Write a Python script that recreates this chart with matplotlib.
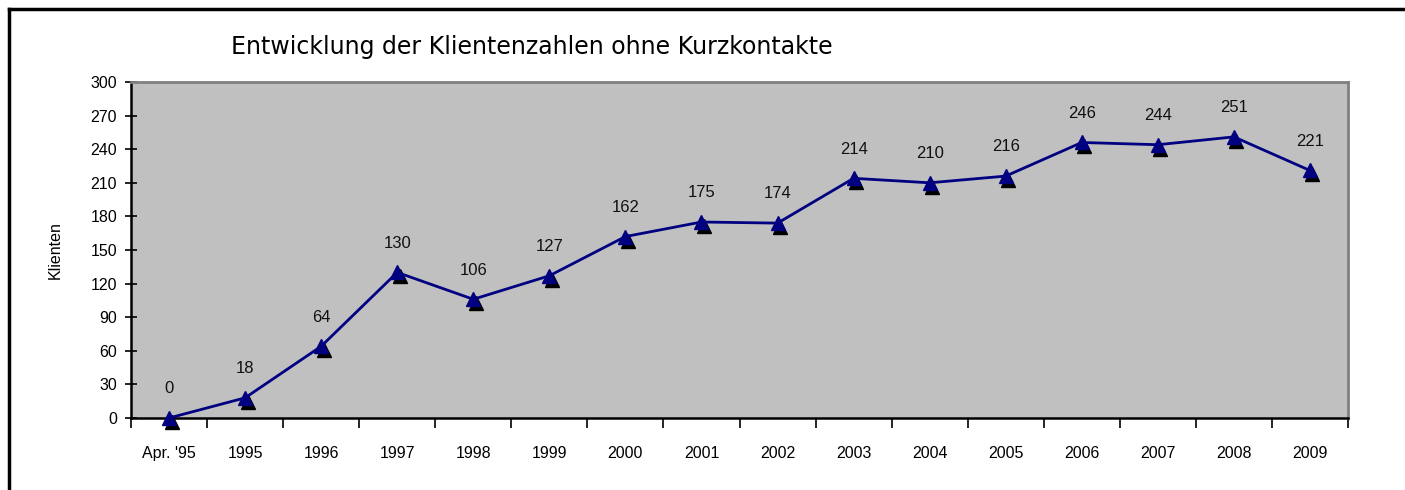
import matplotlib
matplotlib.use("Agg")
import matplotlib.pyplot as plt
import matplotlib.transforms as mtransforms
from matplotlib.lines import Line2D
import numpy as np

categories = ["Apr. '95", "1995", "1996", "1997", "1998", "1999", "2000", "2001",
              "2002", "2003", "2004", "2005", "2006", "2007", "2008", "2009"]
klienten = [0, 18, 64, 130, 106, 127, 162, 175, 174, 214, 210, 216, 246, 244, 251, 221]
y_ticks = list(range(0, 301, 30))

plt.rcParams["font.family"] = ["Liberation Sans", "DejaVu Sans"]

fig = plt.figure(figsize=(14.05, 4.9), dpi=100)
ax = fig.add_axes([131 / 1405, 1 - 418 / 490, 1217 / 1405, 336 / 490])
ax.set_facecolor("#c0c0c0")

x = np.arange(len(categories))

# shadow triangles (offset down-right)
shadow = mtransforms.offset_copy(ax.transData, fig=fig, x=2.5, y=-4, units="dots")
ax.plot(x, klienten, linestyle="none", marker="^", markersize=10,
        color="black", transform=shadow, zorder=3, clip_on=False)
ax.plot(x, klienten, color="#000080", linewidth=2, marker="^", markersize=10,
        markerfacecolor="#000080", markeredgecolor="#000080", zorder=4, clip_on=False)

for xi, yi in zip(x, klienten):
    ax.annotate(str(yi), (xi, yi), xytext=(0, 21), textcoords="offset points",
                ha="center", va="center", fontsize=12, color="#111111")

ax.set_xlim(-0.5, len(categories) - 0.5)
ax.set_ylim(0, 300)
ax.set_yticks(y_ticks)
ax.set_xticks(x)
ax.set_xticklabels(categories, fontsize=11.5)
ax.set_xticks(np.arange(-0.5, len(categories)), minor=True)
ax.tick_params(axis="x", which="major", length=0, pad=20)
ax.tick_params(axis="x", which="minor", length=7, width=1.2, direction="out")
ax.tick_params(axis="y", length=8, width=1.2, direction="inout", labelsize=11.5, pad=6)

for s in ["left", "bottom"]:
    ax.spines[s].set_color("black")
    ax.spines[s].set_linewidth(1.8)
for s in ["top", "right"]:
    ax.spines[s].set_color("#808080")
    ax.spines[s].set_linewidth(2)

ax.set_ylabel("Klienten", fontsize=11.5, labelpad=20)

fig.text(532 / 1405, 1 - 47 / 490, "Entwicklung der Klientenzahlen ohne Kurzkontakte",
         ha="center", va="center", fontsize=17, family=["DejaVu Sans"])

# outer frame (left and top edges)
fig.add_artist(Line2D([9 / 1405, 9 / 1405], [0, 1 - 9 / 490], color="black",
                      linewidth=2.5, transform=fig.transFigure))
fig.add_artist(Line2D([9 / 1405, 1], [1 - 9 / 490, 1 - 9 / 490], color="black",
                      linewidth=2.5, transform=fig.transFigure))

fig.savefig("out.png", dpi=100, facecolor="white")
